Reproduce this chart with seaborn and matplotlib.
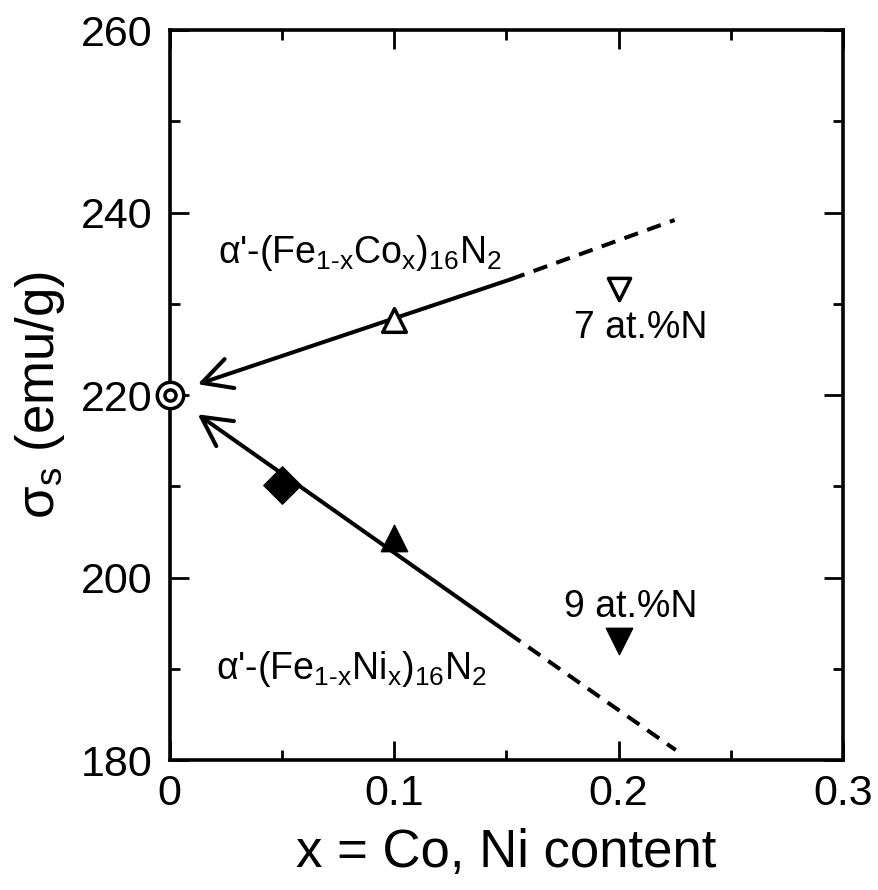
import matplotlib
matplotlib.use("Agg")
import matplotlib.pyplot as plt
import seaborn as sns
from matplotlib.ticker import MultipleLocator

sns.set_style("ticks")
plt.rcParams['font.family'] = ['Liberation Sans', 'DejaVu Sans']
plt.rcParams['mathtext.fontset'] = 'custom'
plt.rcParams['mathtext.rm'] = 'Liberation Sans'
plt.rcParams['mathtext.it'] = 'Liberation Sans'
plt.rcParams['mathtext.bf'] = 'Liberation Sans:bold'
plt.rcParams['text.color'] = 'black'
plt.rcParams['axes.labelcolor'] = 'black'
plt.rcParams['xtick.color'] = 'black'
plt.rcParams['ytick.color'] = 'black'

# ---- data ----
co_solid_x = [0.152, 0.0125]
co_solid_y = [232.7, 221.2]
co_dash_x = [0.152, 0.225]
co_dash_y = [232.7, 239.2]

ni_solid_x = [0.151, 0.0125]
ni_solid_y = [193.9, 217.9]
ni_dash_x = [0.151, 0.2255]
ni_dash_y = [193.9, 181.1]

ref_x, ref_y = [0.0], [220.0]
co_open_up_x, co_open_up_y = [0.1], [228.2]
co_open_dn_x, co_open_dn_y = [0.2], [231.6]
ni_diamond_x, ni_diamond_y = [0.05], [210.2]
ni_up_x, ni_up_y = [0.1], [204.3]
ni_dn_x, ni_dn_y = [0.2], [193.0]

fig = plt.figure(figsize=(8.79, 8.9), dpi=100)
ax = fig.add_axes([0.193, 0.146, 0.766, 0.820])

lw = 2.9
# dashed extensions
sns.lineplot(x=co_dash_x, y=co_dash_y, ax=ax, color='black', lw=lw,
             linestyle=(0, (3.6, 2.4)), estimator=None, sort=False)
sns.lineplot(x=ni_dash_x, y=ni_dash_y, ax=ax, color='black', lw=lw,
             linestyle=(0, (3.6, 2.4)), estimator=None, sort=False)

# solid lines with arrow heads
for xs, ys in [(co_solid_x, co_solid_y), (ni_solid_x, ni_solid_y)]:
    ax.annotate('', xy=(xs[1], ys[1]), xytext=(xs[0], ys[0]),
                arrowprops=dict(arrowstyle='->, head_length=1.05, head_width=0.55',
                                lw=lw, color='black', mutation_scale=20,
                                shrinkA=0, shrinkB=0))

# markers
sns.scatterplot(x=ref_x, y=ref_y, ax=ax, marker='o', s=19**2, facecolor='white',
                edgecolor='black', linewidth=2.5, clip_on=False, zorder=5)
sns.scatterplot(x=ref_x, y=ref_y, ax=ax, marker='o', s=8**2, facecolor='white',
                edgecolor='black', linewidth=2.5, clip_on=False, zorder=6)
sns.scatterplot(x=co_open_up_x, y=co_open_up_y, ax=ax, marker='^', s=17**2,
                facecolor='white', edgecolor='black', linewidth=2.5, zorder=5)
sns.scatterplot(x=co_open_dn_x, y=co_open_dn_y, ax=ax, marker='v', s=16**2,
                facecolor='white', edgecolor='black', linewidth=2.5, zorder=5)
sns.scatterplot(x=ni_diamond_x, y=ni_diamond_y, ax=ax, marker='D', s=19**2,
                color='black', edgecolor='black', linewidth=1, zorder=5)
sns.scatterplot(x=ni_up_x, y=ni_up_y, ax=ax, marker='^', s=19**2,
                color='black', edgecolor='black', linewidth=1, zorder=5)
sns.scatterplot(x=ni_dn_x, y=ni_dn_y, ax=ax, marker='v', s=19**2,
                color='black', edgecolor='black', linewidth=1, zorder=5)

# texts
ax.text(0.0215, 234.5, "α'-(Fe$_{\\mathrm{1\u2010x}}$Co$_\\mathrm{x}$)$_{16}$N$_2$",
        fontsize=27, ha='left', va='baseline')
ax.text(0.180, 226.3, "7 at.%N", fontsize=27, ha='left', va='baseline')
ax.text(0.1755, 195.7, "9 at.%N", fontsize=27, ha='left', va='baseline')
ax.text(0.0205, 188.9, "α'-(Fe$_{\\mathrm{1\u2010x}}$Ni$_\\mathrm{x}$)$_{16}$N$_2$",
        fontsize=27, ha='left', va='baseline')

ax.set_xlim(0, 0.3)
ax.set_ylim(180, 260)
ax.xaxis.set_minor_locator(MultipleLocator(0.05))
ax.yaxis.set_major_locator(MultipleLocator(20))
ax.yaxis.set_minor_locator(MultipleLocator(10))
ax.set_xticks([0, 0.1, 0.2, 0.3])
ax.set_xticklabels(['0', '0.1', '0.2', '0.3'])
ax.tick_params(which='both', direction='in', top=True, right=True, width=2,
               labelsize=31, colors='black')
ax.tick_params(axis='y', pad=12)
ax.tick_params(axis='x', pad=10)
ax.tick_params(which='major', length=14)
ax.tick_params(which='minor', length=7)
for sp in ax.spines.values():
    sp.set_linewidth(2.6)
    sp.set_color('black')

ax.set_xlabel("x = Co, Ni content", fontsize=38, labelpad=10)
ax.set_ylabel(r"σ$_\mathrm{s}$ (emu/g)", fontsize=38, labelpad=10)

fig.savefig("out.png", dpi=100)
